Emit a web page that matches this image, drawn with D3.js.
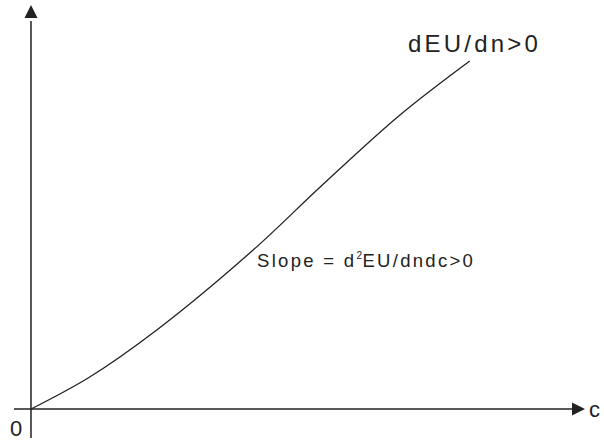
<!DOCTYPE html>
<html>
<head>
<meta charset="utf-8">
<script src="https://cdn.jsdelivr.net/npm/d3@7/dist/d3.min.js"></script>
<style>
  html, body { margin: 0; padding: 0; background: #fff; }
  svg { display: block; }
  text { font-family: "Liberation Sans", Arial, Helvetica, sans-serif; fill: #222; }
</style>
</head>
<body>
<svg id="chart" width="604" height="441"></svg>
<script>
// Expected utility derivative dEU/dn as a function of consumption c (arbitrary units)
const cValues  = [0, 10.6, 22.7, 40.1, 52.2, 66.6, 79.2];
const dEUValues = [0, 8, 19.75, 39.75, 55.5, 73.5, 87];
const curveLabel = "dEU/dn>0";
const slopeLabel = ["Slope = d", "2", "EU/dndc>0"];
const originLabel = "0";
const xAxisLabel = "c";

const svg = d3.select("#chart");
const ink = "#222";

const x = d3.scaleLinear().domain([0, 100]).range([31, 585]);
const y = d3.scaleLinear().domain([0, 100]).range([409, 9]);

// axes
svg.append("line")
  .attr("x1", 14).attr("x2", x(98)).attr("y1", y(0)).attr("y2", y(0))
  .attr("stroke", ink).attr("stroke-width", 1.5);
svg.append("line")
  .attr("x1", x(0)).attr("x2", x(0)).attr("y1", 438).attr("y2", y(97))
  .attr("stroke", ink).attr("stroke-width", 1.5);

// arrowheads
const xt = x(100), yt = y(0);
svg.append("path")
  .attr("d", `M${xt},${yt} L${xt - 13},${yt - 6.5} L${xt - 13},${yt + 6.5} Z`)
  .attr("fill", ink);
const ax = x(0), ay = y(101);
svg.append("path")
  .attr("d", `M${ax},${ay} L${ax - 6.5},${ay + 13} L${ax + 6.5},${ay + 13} Z`)
  .attr("fill", ink);

// curve
const pts = cValues.map((c, i) => [c, dEUValues[i]]);
svg.append("path")
  .datum(pts)
  .attr("d", d3.line().x(d => x(d[0])).y(d => y(d[1])).curve(d3.curveCatmullRom.alpha(0.5)))
  .attr("fill", "none").attr("stroke", ink).attr("stroke-width", 1.3);

// labels
svg.append("text")
  .attr("x", 408).attr("y", 52)
  .attr("font-size", 24).attr("letter-spacing", 3.2)
  .text(curveLabel);

const st = svg.append("text")
  .attr("x", 257).attr("y", 267)
  .attr("font-size", 18.5).attr("letter-spacing", 2.3);
st.append("tspan").text(slopeLabel[0]);
st.append("tspan").attr("dy", -8).attr("font-size", 10).attr("letter-spacing", 0.5).text(slopeLabel[1]);
st.append("tspan").attr("dy", 8).text(slopeLabel[2]);

svg.append("text")
  .attr("x", 10).attr("y", 436)
  .attr("font-size", 22)
  .text(originLabel);

svg.append("text")
  .attr("x", 589).attr("y", 417)
  .attr("font-size", 22)
  .text(xAxisLabel);
</script>
</body>
</html>
